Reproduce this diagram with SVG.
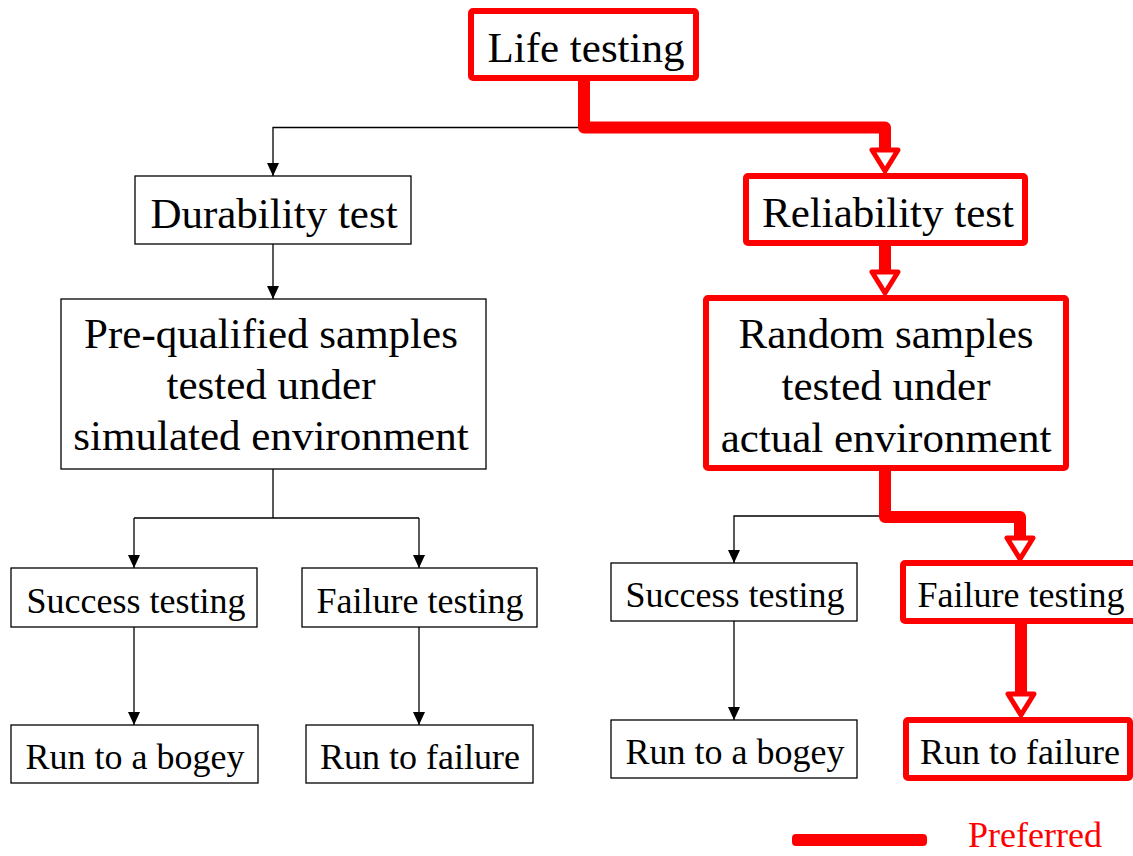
<svg xmlns="http://www.w3.org/2000/svg" width="1133" height="856" viewBox="0 0 1133 856">
<style>
  text { font-family: "Liberation Serif", "Times New Roman", serif; fill: #000; text-anchor: middle; }
  .big { font-size: 43px; }
  .small { font-size: 36px; }
  .box { fill: #fff; stroke: #000; stroke-width: 1.3; }
  .rbox { fill: #fff; stroke: #ff0000; stroke-width: 6; stroke-linejoin: round; }
  .blk { fill: none; stroke: #000; stroke-width: 1.3; }
  .red { fill: none; stroke: #ff0000; stroke-width: 12; stroke-linejoin: round; }
  .rhead { fill: #fff; stroke: #ff0000; stroke-width: 5; stroke-linejoin: round; }
</style>
<defs>
  <marker id="ah" markerUnits="userSpaceOnUse" viewBox="0 -6 13 12" refX="13" refY="0" markerWidth="13" markerHeight="12" orient="auto">
    <path d="M0,-6 L13,0 L0,6 z" fill="#000"/>
  </marker>
</defs>
<rect width="1133" height="856" fill="#fff"/>

<g id="connectors">
  <path class="blk" d="M584,127.5 H273 V176" marker-end="url(#ah)"/>
  <path class="blk" d="M273,244 V299" marker-end="url(#ah)"/>
  <path class="blk" d="M273,469 V518 M134,518 H419"/>
  <path class="blk" d="M134,518 V568" marker-end="url(#ah)"/>
  <path class="blk" d="M419,518 V568" marker-end="url(#ah)"/>
  <path class="blk" d="M134,627 V725" marker-end="url(#ah)"/>
  <path class="blk" d="M419,627 V725" marker-end="url(#ah)"/>
  <path class="blk" d="M885,516 H734 V563" marker-end="url(#ah)"/>
  <path class="blk" d="M734,621 V720" marker-end="url(#ah)"/>

  <path class="red" d="M584,78 V127.5 H885 V150"/>
  <polygon class="rhead" points="872,150 898,150 885,171"/>
  <path class="red" d="M885,243 V272"/>
  <polygon class="rhead" points="872,272 898,272 885,293"/>
  <path class="red" d="M885,468 V517 H1020 V538"/>
  <polygon class="rhead" points="1007,538 1033,538 1020,559"/>
  <path class="red" d="M1021,621 V694"/>
  <polygon class="rhead" points="1008,694 1034,694 1021,715"/>
</g>

<g id="life-testing">
  <rect class="rbox" x="471" y="11" width="225" height="67" rx="2"/>
  <text class="big" x="586" y="62">Life testing</text>
</g>
<g id="durability-test">
  <rect class="box" x="135" y="176" width="276" height="68"/>
  <text class="big" x="274" y="228">Durability test</text>
</g>
<g id="reliability-test">
  <rect class="rbox" x="746" y="176" width="279" height="67" rx="2"/>
  <text class="big" x="888" y="227">Reliability test</text>
</g>
<g id="pre-qualified">
  <rect class="box" x="61" y="299" width="425" height="170"/>
  <text class="big" x="271" y="348">Pre-qualified samples</text>
  <text class="big" x="271" y="399">tested under</text>
  <text class="big" x="271" y="450">simulated environment</text>
</g>
<g id="random-samples">
  <rect class="rbox" x="706" y="298" width="360" height="170" rx="2"/>
  <text class="big" x="886" y="348">Random samples</text>
  <text class="big" x="886" y="400">tested under</text>
  <text class="big" x="886" y="452">actual environment</text>
</g>
<g id="success-left">
  <rect class="box" x="11" y="568" width="246" height="59"/>
  <text class="small" x="136" y="613">Success testing</text>
</g>
<g id="failure-left">
  <rect class="box" x="302" y="568" width="235" height="59"/>
  <text class="small" x="420" y="613">Failure testing</text>
</g>
<g id="bogey-left">
  <rect class="box" x="11" y="725" width="247" height="58"/>
  <text class="small" x="135" y="769">Run to a bogey</text>
</g>
<g id="runfail-left">
  <rect class="box" x="306" y="725" width="227" height="58"/>
  <text class="small" x="420" y="769">Run to failure</text>
</g>
<g id="success-right">
  <rect class="box" x="611" y="563" width="246" height="58"/>
  <text class="small" x="735" y="607">Success testing</text>
</g>
<g id="failure-right">
  <rect class="rbox" x="903" y="563" width="240" height="58" rx="2"/>
  <text class="small" x="1021" y="607">Failure testing</text>
</g>
<g id="bogey-right">
  <rect class="box" x="611" y="720" width="246" height="58"/>
  <text class="small" x="735" y="764">Run to a bogey</text>
</g>
<g id="runfail-right">
  <rect class="rbox" x="906" y="720" width="224" height="58" rx="2"/>
  <text class="small" x="1020" y="764">Run to failure</text>
</g>
<g id="legend">
  <rect x="792" y="834" width="135" height="12" rx="4" fill="#ff0000"/>
  <text class="small" x="968" y="847" style="text-anchor:start;fill:#ff0000">Preferred</text>
</g>
</svg>
